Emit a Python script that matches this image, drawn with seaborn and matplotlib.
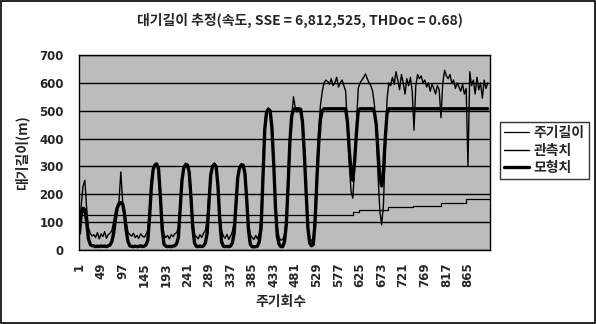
import pandas as pd
import seaborn as sns
import matplotlib.pyplot as plt
from matplotlib.patches import Rectangle

# cycle number of each sample (every 4th cycle)
cycle = list(range(1, 912, 4))

# observed queue length (관측치)
observed = [
    90, 160, 230, 250, 150, 80, 60, 50,                      # 1-29
    55, 45, 62, 40, 58, 48, 66, 42, 55, 60,                  # 33-69
    70, 100, 140, 160, 175, 280, 175, 150, 100, 65, 55,      # 73-113
    50, 60, 45, 52, 42, 58, 50, 46, 55,                      # 117-149
    70, 150, 250, 295, 310, 312, 295, 200, 100, 55,          # 153-189
    45, 52, 40, 55, 48, 58, 62,                              # 193-217
    80, 170, 260, 300, 312, 308, 290, 210, 105, 55,          # 221-257
    48, 40, 55, 45, 60, 70,                                  # 261-281
    110, 200, 280, 305, 312, 300, 250, 140, 70,              # 285-317
    50, 42, 56, 38, 50, 65,                                  # 321-341
    100, 190, 270, 300, 310, 305, 285, 200, 100, 55,         # 345-381
    45, 38, 52, 40, 60,                                      # 385-401
    120, 300, 450, 500, 510, 495, 450, 330, 170, 80,         # 405-441
    45, 35, 38, 55, 120,                                     # 445-461
    260, 400, 480, 550, 510, 495, 505, 490, 470, 380,        # 465-501
    230, 90, 40, 32, 45,                                     # 505-521
    150, 300, 430, 520, 570, 600, 610,                       # 525-549
    605, 595, 615, 590, 600, 620, 585, 600, 610, 590,        # 553-589
    570, 440, 310, 210, 186, 300, 450, 580,                  # 593-621
    600, 610, 620, 632, 615, 600, 590, 570, 520,             # 625-657
    430, 270, 140, 90, 160, 360, 540, 600,                   # 661-689
    590, 620, 595, 640, 610, 575, 630, 600, 560, 615, 590, 620, 570,   # 693-741
    430,                                                     # 745
    590, 630, 615, 625, 600, 610, 585, 600, 570, 595, 580, 560, 590, 575,  # 749-801
    475,                                                     # 805
    600, 645, 625, 615, 630, 600, 610, 580, 600, 585, 570, 595, 560, 580,  # 809-861
    300,                                                     # 865
    640, 590, 610, 560, 620, 575, 600, 545, 610, 580, 600,   # 869-909
]

# model estimate (모형치)
model = [
    60, 130, 150, 145, 100, 40, 20, 15,
    15, 12, 14, 12, 15, 13, 14, 12, 15, 18,
    30, 60, 110, 150, 165, 170, 165, 130, 70, 30, 15,
    13, 12, 14, 12, 13, 15, 12, 14, 18,
    35, 120, 230, 290, 305, 308, 290, 190, 75, 20,
    14, 12, 13, 12, 14, 15, 22,
    45, 150, 250, 295, 305, 305, 280, 190, 80, 25,
    13, 12, 14, 12, 15, 25,
    60, 170, 270, 300, 308, 300, 230, 110, 30,
    14, 12, 13, 12, 14, 25,
    60, 160, 260, 295, 305, 305, 275, 180, 70, 20,
    12, 11, 12, 14, 30,
    80, 260, 430, 495, 505, 500, 440, 310, 150, 50,
    20, 12, 12, 30, 90,
    230, 390, 480, 505, 507, 507, 507, 505, 460, 350,
    210, 80, 25, 15, 20,
    100, 250, 380, 470, 500, 507, 507,
    507, 507, 507, 507, 507, 507, 507, 507, 507, 507,
    507, 460, 360, 280, 250, 320, 420, 500,
    507, 507, 507, 507, 507, 507, 507, 507, 495,
    450, 350, 260, 230, 280, 400, 490, 507,
    507, 507, 507, 507, 507, 507, 507, 507, 507, 507, 507, 507, 507,
    507,
    507, 507, 507, 507, 507, 507, 507, 507, 507, 507, 507, 507, 507, 507,
    507,
    507, 507, 507, 507, 507, 507, 507, 507, 507, 507, 507, 507, 507, 507,
    507,
    507, 507, 507, 507, 507, 507, 507, 507, 507, 507, 507,
]

# cycle length (주기길이): step changes
cl_start = [1, 610, 623, 688, 743, 805, 861, 912]
cl_value = [125, 136, 143, 154, 158, 170, 182, 182]

xtick_pos = list(range(1, 866, 48))

df = pd.DataFrame({"cycle": cycle, "observed": observed, "model": model})

sns.set_style("white")
plt.rcParams["font.family"] = ["Noto Sans CJK KR", "DejaVu Sans"]

fig = plt.figure(figsize=(5.96, 3.24), dpi=100)
ax = fig.add_axes([79 / 596, 1 - 250 / 324, (490 - 79) / 596, (250 - 55) / 324])
ax.set_facecolor("#bcbcbc")

sns.lineplot(x=cl_start, y=cl_value, ax=ax, color="black", lw=0.9,
             drawstyle="steps-post", label="주기길이")
sns.lineplot(data=df, x="cycle", y="observed", ax=ax, color="black", lw=1.0,
             label="관측치")
sns.lineplot(data=df, x="cycle", y="model", ax=ax, color="black", lw=2.4,
             label="모형치")

ax.set_xlim(0, 914)
ax.set_ylim(0, 700)
ax.set_yticks(range(0, 701, 100))
ax.set_xticks(xtick_pos)
ax.set_xticklabels([str(v) for v in xtick_pos], rotation=90)
ax.grid(axis="y", color="black", lw=1.0)
ax.grid(axis="x", visible=False)
ax.set_axisbelow(True)
for s in ax.spines.values():
    s.set_color("black")
    s.set_linewidth(1.0)
ax.tick_params(axis="both", length=0, labelsize=8.5)
ax.tick_params(axis="y", pad=11)
ax.tick_params(axis="x", pad=9)
for lab in ax.get_xticklabels() + ax.get_yticklabels():
    lab.set_family("DejaVu Sans")
    lab.set_fontweight("bold")
ax.set_xlabel("")
ax.set_ylabel("")

fig.text(300 / 596, 1 - 20 / 324, "대기길이 추정(속도, SSE = 6,812,525, THDoc = 0.68)",
         ha="center", va="center", fontsize=10, fontweight="bold")
fig.text(281 / 596, 1 - 302 / 324, "주기회수", ha="center", va="center",
         fontsize=10, fontweight="bold")
fig.text(22 / 596, 1 - 153 / 324, "대기길이(m)", ha="center", va="center",
         rotation=90, fontsize=10, fontweight="bold")

ax.get_legend().remove()
h, l = ax.get_legend_handles_labels()
leg = fig.legend(h, l, loc="upper left", bbox_to_anchor=(500 / 596, 1 - 122 / 324),
                 frameon=True, fancybox=False, edgecolor="black", fontsize=10,
                 handlelength=1.8, handletextpad=0.3, borderpad=0.3,
                 labelspacing=0.25, borderaxespad=0)
leg.get_frame().set_linewidth(1.0)
for t in leg.get_texts():
    t.set_fontweight("bold")

fig.patches.append(Rectangle((0.002, 0.004), 0.996, 0.993, transform=fig.transFigure,
                             fill=False, edgecolor="black", lw=1.2))

fig.savefig("out.png", dpi=100)
